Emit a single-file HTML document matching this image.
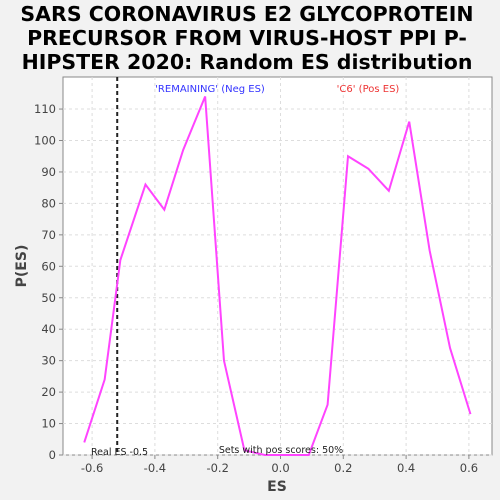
<!DOCTYPE html>
<html><head><meta charset="utf-8"><style>
html,body{margin:0;padding:0;background:#f2f2f2;width:500px;height:500px;overflow:hidden;font-family:"Liberation Sans","DejaVu Sans",sans-serif}
svg{display:block}
</style></head><body>
<svg id="chart" width="500" height="500" style="font-family:'DejaVu Sans','Liberation Sans',sans-serif">
<rect width="500" height="500" fill="#f2f2f2"/>
<g font-weight="bold" font-size="20.5" text-anchor="middle" fill="#000" font-family="'DejaVu Sans',sans-serif">
<text x="247" y="21">SARS CORONAVIRUS E2 GLYCOPROTEIN</text>
<text x="247" y="45">PRECURSOR FROM VIRUS-HOST PPI P-</text>
<text x="247" y="69">HIPSTER 2020: Random ES distribution</text>
</g>
<rect x="63" y="77" width="429" height="378" fill="#fff" stroke="#888"/>
<g id="grid"></g><g id="axes"></g><g id="marks"></g>
<text x="210" y="92" font-size="10" fill="#3333ff" text-anchor="middle">'REMAINING' (Neg ES)</text>
<text x="368" y="92" font-size="10" fill="#ee3333" text-anchor="middle">'C6' (Pos ES)</text>
<text x="91" y="455" font-size="9.5" fill="#222">Real ES -0.5</text>
<text x="281" y="453" font-size="9.5" fill="#222" text-anchor="middle">Sets with pos scores: 50%</text>
<text x="277" y="491" font-size="14" font-weight="bold" fill="#444" text-anchor="middle">ES</text>
<text x="26" y="266" font-size="14" font-weight="bold" fill="#444" text-anchor="middle" transform="rotate(-90 26 266)">P(ES)</text>
</svg>
<script>
const esValues=[-0.625,-0.56,-0.51,-0.43,-0.37,-0.31,-0.24,-0.18,-0.115,-0.05,0.02,0.09,0.15,0.215,0.28,0.345,0.41,0.475,0.54,0.605];
const pValues=[4,24,62,86,78,97,114,30,1.5,0,0,0,16,95,91,84,106,65,34,13];
const xTicks=[-0.6,-0.4,-0.2,0.0,0.2,0.4,0.6];
const xTickLabels=["-0.6","-0.4","-0.2","0.0","0.2","0.4","0.6"];
const yTicks=[0,10,20,30,40,50,60,70,80,90,100,110];
const realES=-0.52;
const NS="http://www.w3.org/2000/svg";
const xS=v=>280.5+v*314;
const yS=v=>455-v*3.145;
function mk(tag,attrs,parent){const e=document.createElementNS(NS,tag);for(const k in attrs)e.setAttribute(k,attrs[k]);document.getElementById(parent).appendChild(e);return e;}
xTicks.forEach((t,i)=>{
 const g=mk('line',{x1:xS(t),x2:xS(t),y1:77,y2:455,stroke:'#ddd','stroke-dasharray':'3,3'},'grid');
 
 
 mk('line',{x1:xS(t),x2:xS(t),y1:455,y2:459,stroke:'#888'},'axes');
 const l=mk('text',{x:xS(t),y:472,'font-size':11.5,fill:'#444','text-anchor':'middle'},'axes');
 l.textContent=xTickLabels[i];
 
 
});
yTicks.forEach(t=>{
 const g=mk('line',{x1:63,x2:492,y1:yS(t),y2:yS(t),stroke:'#ddd','stroke-dasharray':'3,3'},'grid');
 
 
 mk('line',{x1:59,x2:63,y1:yS(t),y2:yS(t),stroke:'#888'},'axes');
 const l=mk('text',{x:56,y:yS(t)+4,'font-size':11.5,fill:'#444','text-anchor':'end'},'axes');
 l.textContent=String(t);
 
 
});
const rl=mk('line',{x1:xS(realES),x2:xS(realES),y1:77,y2:455,stroke:'#222','stroke-width':2,'stroke-dasharray':'4,3'},'marks');


const pl=mk('polyline',{points:esValues.map((v,i)=>xS(v)+','+yS(pValues[i])).join(' '),fill:'none',stroke:'#ff44ff','stroke-width':2},'marks');


</script>
</body></html>
